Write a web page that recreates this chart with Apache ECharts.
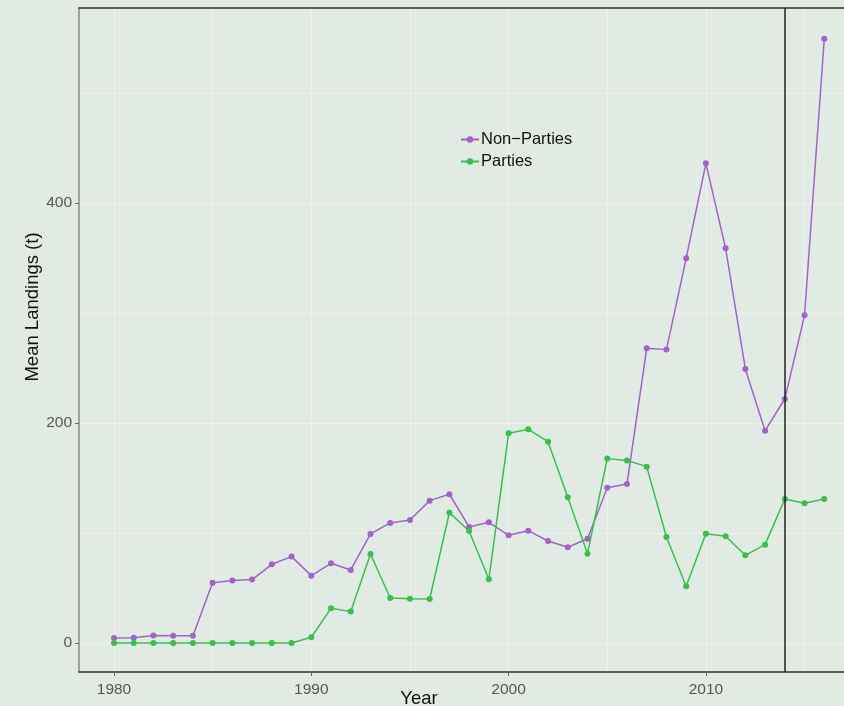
<!DOCTYPE html>
<html>
<head>
<meta charset="utf-8">
<script src="https://cdn.jsdelivr.net/npm/echarts@6/dist/echarts.min.js"></script>
<style>
  html, body { margin: 0; padding: 0; background: #e1ebe3; }
  #chart { width: 844px; height: 706px; }
</style>
</head>
<body>
<div id="chart"></div>
<script>
// data
var years = [1980, 1981, 1982, 1983, 1984, 1985, 1986, 1987, 1988, 1989,
  1990, 1991, 1992, 1993, 1994, 1995, 1996, 1997, 1998, 1999,
  2000, 2001, 2002, 2003, 2004, 2005, 2006, 2007, 2008, 2009,
  2010, 2011, 2012, 2013, 2014, 2015, 2016];
var nonParties = [4.5, 4.8, 6.7, 6.5, 6.5, 54.8, 56.7, 57.6, 71.5, 78.5,
  61.2, 72.4, 66.4, 99.1, 109.1, 111.8, 129.4, 135.2, 105.5, 109.7,
  97.9, 102.1, 92.7, 87, 94.8, 141.2, 144.5, 267.9, 266.7, 349.7,
  436.1, 358.8, 249.1, 193, 221.8, 297.9, 549.4];
var parties = [0, 0, 0, 0, 0, 0, 0, 0, 0, 0,
  5.2, 31.5, 28.5, 80.9, 40.9, 40.3, 40, 118.5, 101.8, 57.9,
  190.6, 194.2, 183, 132.4, 81.2, 167.6, 166, 160.3, 96.4, 51.5,
  99.4, 97, 79.7, 89.4, 130.9, 127, 130.9];
var xTicks = [1980, 1990, 2000, 2010];
var xGrid = [1980, 1985, 1990, 1995, 2000, 2005, 2010, 2015];
var yTicks = [0, 200, 400];
var yGrid = [0, 100, 200, 300, 400, 500];
var cutYear = 2014;

var chart = echarts.init(document.getElementById("chart"));

function pairs(vals) {
  return years.map(function (y, i) { return [y, vals[i]]; });
}

var xMin = 1978.226, xMax = 2017;
var yMin = -26.4, yMax = 577.3;
var gridLine = { show: true, lineStyle: { color: "#edf2ee", width: 1 } };
var font = "Liberation Sans";

chart.setOption({
  backgroundColor: "#e1ebe3",
  animation: false,
  grid: { left: 79, right: 0, top: 8, bottom: 34, outerBoundsMode: "none", containLabel: false },
  legend: {
    left: 455,
    top: 126,
    orient: "vertical",
    itemWidth: 18,
    itemHeight: 8,
    itemGap: 5,
    textStyle: { color: "#111", fontSize: 16.5, fontFamily: font, padding: [0, 0, 0, -3] },
    data: ["Non\u2212Parties", "Parties"]
  },
  // axis titles
  graphic: [
    {
      type: "text",
      x: 33,
      y: 307,
      rotation: Math.PI / 2,
      style: { text: "Mean Landings (t)", fill: "#111", fontSize: 18.5, fontFamily: font, align: "center", verticalAlign: "middle" }
    },
    {
      type: "text",
      x: 419,
      y: 699,
      style: { text: "Year", fill: "#111", fontSize: 18.5, fontFamily: font, align: "center", verticalAlign: "middle" }
    }
  ],
  xAxis: [
    {
      type: "value",
      min: xMin,
      max: xMax,
      position: "bottom",
      axisLine: { show: true, onZero: false, lineStyle: { color: "#333", width: 1.5 } },
      axisTick: { show: true, length: 4, customValues: xTicks, lineStyle: { color: "#666" } },
      axisLabel: {
        customValues: xTicks, color: "#555", fontSize: 15.5, margin: 10, fontFamily: font,
        formatter: function (v) { return String(v); }
      },
      splitLine: { show: false }
    },
    {
      type: "value",
      min: xMin,
      max: xMax,
      position: "top",
      axisLine: { show: true, onZero: false, lineStyle: { color: "#333", width: 1.5 } },
      axisTick: { show: false, customValues: xGrid },
      axisLabel: { show: false },
      splitLine: gridLine
    }
  ],
  yAxis: [
    {
      type: "value",
      min: yMin,
      max: yMax,
      position: "left",
      axisLine: { show: true, onZero: false, lineStyle: { color: "#888", width: 1.5 } },
      axisTick: { show: true, length: 4, customValues: yTicks, lineStyle: { color: "#666" } },
      axisLabel: {
        customValues: yTicks, color: "#555", fontSize: 15.5, margin: 7, fontFamily: font,
        formatter: function (v) { return String(v); }
      },
      splitLine: { show: false }
    },
    {
      type: "value",
      min: yMin,
      max: yMax,
      position: "right",
      axisLine: { show: false },
      axisTick: { show: false, customValues: yGrid },
      axisLabel: { show: false },
      splitLine: gridLine
    }
  ],
  series: [
    {
      name: "Non\u2212Parties",
      type: "line",
      data: pairs(nonParties),
      symbol: "circle",
      symbolSize: 6,
      color: "#a262c8",
      lineStyle: { width: 1.5 },
      markLine: {
        silent: true,
        symbol: "none",
        label: { show: false },
        lineStyle: { color: "#222", type: "solid", width: 1.5 },
        data: [{ xAxis: cutYear }]
      }
    },
    {
      name: "Parties",
      type: "line",
      data: pairs(parties),
      symbol: "circle",
      symbolSize: 6,
      color: "#34c24a",
      lineStyle: { width: 1.5 }
    }
  ]
});
</script>
</body>
</html>
